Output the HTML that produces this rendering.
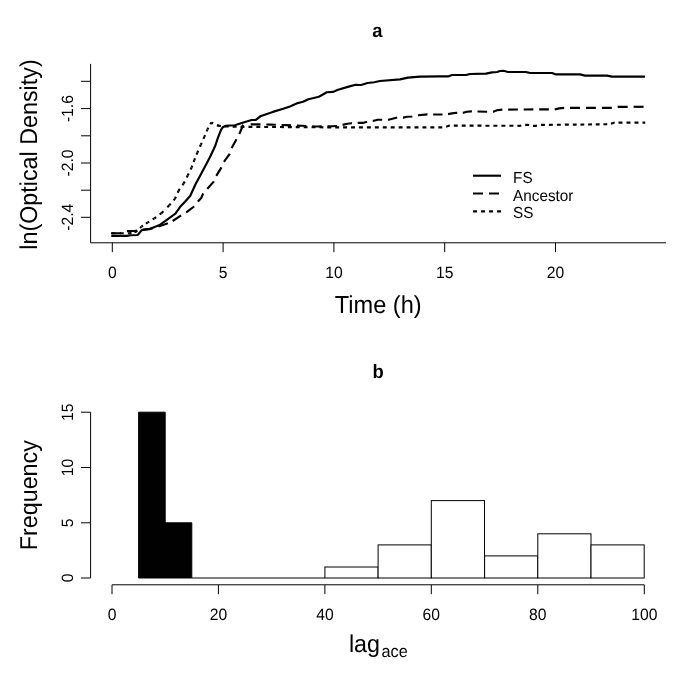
<!DOCTYPE html>
<html><head><meta charset="utf-8"><title>Figure</title>
<style>
html,body{margin:0;padding:0;background:#fff;}
body{width:685px;height:685px;overflow:hidden;}
svg{display:block;}
text{font-family:"Liberation Sans",sans-serif;fill:#000;text-anchor:middle;text-rendering:geometricPrecision;}
.ttl{font-size:18.4px;font-weight:bold;}
.tk{font-size:15.7px;}
.lab{font-size:23.3px;}
.lg{font-size:15.3px;text-anchor:start;}
.ax{fill:none;stroke:#000;stroke-width:1;stroke-linecap:butt;}
.cv{fill:none;stroke:#000;stroke-width:2.15;stroke-linecap:butt;stroke-linejoin:round;}
.da{stroke-dasharray:10 6;}
.do{stroke-dasharray:4 4;}
.br{fill:#fff;stroke:#000;stroke-width:1;}
.bk{fill:#000;stroke:#000;stroke-width:1;}
</style></head>
<body>
<svg width="685" height="685" viewBox="0 0 685 685">
<rect x="0" y="0" width="685" height="685" fill="#fff"/>
<g opacity="0.999">
<text class="ttl" transform="translate(377.4,36.6) scale(1,1.045)">a</text>
<path class="ax" d="M90.6,63.9V242.8H666"/>
<path class="ax" d="M81,81.3H90.6"/>
<path class="ax" d="M81,108.6H90.6"/>
<path class="ax" d="M81,135.8H90.6"/>
<path class="ax" d="M81,163.0H90.6"/>
<path class="ax" d="M81,190.2H90.6"/>
<path class="ax" d="M81,217.3H90.6"/>
<text class="tk" transform="translate(72.6,108.6) rotate(-90) scale(1,1.045)">-1.6</text>
<text class="tk" transform="translate(72.6,163.0) rotate(-90) scale(1,1.045)">-2.0</text>
<text class="tk" transform="translate(72.6,217.3) rotate(-90) scale(1,1.045)">-2.4</text>
<path class="ax" d="M112.3,242.8V252.2"/>
<text class="tk" transform="translate(112.3,278.2) scale(1,1.045)">0</text>
<path class="ax" d="M223.1,242.8V252.2"/>
<text class="tk" transform="translate(223.1,278.2) scale(1,1.045)">5</text>
<path class="ax" d="M333.9,242.8V252.2"/>
<text class="tk" transform="translate(333.9,278.2) scale(1,1.045)">10</text>
<path class="ax" d="M444.7,242.8V252.2"/>
<text class="tk" transform="translate(444.7,278.2) scale(1,1.045)">15</text>
<path class="ax" d="M555.5,242.8V252.2"/>
<text class="tk" transform="translate(555.5,278.2) scale(1,1.045)">20</text>
<text class="lab" style="font-size:23.6px" transform="translate(378.2,313) scale(1,1.045)">Time (h)</text>
<text class="lab" transform="translate(37.0,154.5) rotate(-90) scale(1,1.045)">ln(Optical Density)</text>
<polyline class="cv" points="111.3,235.9 127,235.9 130.5,235.2 137.7,235.0 141.8,230.1 149,229.2 159.6,225 167.5,219.3 175.4,213.6 180.7,206.2 185,201.8 190.3,195.7 195.5,184.3 200.8,174.6 206.5,163.8 210,157 215.3,145.7 217.9,137.8 221,129.9 222.7,127.3 225.8,125.7 234.7,125.2 242.6,122.8 251.6,120.0 255.8,119.9 260.3,116.3 272.8,111.9 283.3,108.7 290,106.4 296.6,103.4 303.1,101.8 308.4,99.2 318.9,96.8 326.8,92.2 333.4,91.9 337.3,90 347.8,86.9 355.7,84.7 361,85 367.5,83 374.1,82.3 380,81 400,79.4 408,77.6 420,76.6 440,76.4 448,76.4 452,75 466,75 470,74 486,73.6 492,72.4 497,72 500,71 503.5,70.8 508,72 526,72 530,73 552,73 556,74.4 580,74.4 585,75.6 607,75.6 612,76.6 645,76.6"/>
<polyline class="cv da" points="111.3,233.2 120,233.2 126,231.2 134.6,231 141,229.6 150,228.9 160,225.9 170.6,222.4"/>
<polyline class="cv da" style="stroke-dashoffset:13.5" points="170.6,222.4 178.5,217.1 186.3,212.3 193.4,207 198.2,201.3 201.2,198 203,193.9 207.4,188.8 213.7,181.6 216,176.3 221.3,167.6 223.6,162.3 229.5,154.1 231.8,147.7 237,138.4 240,132.5 243.3,124.4"/>
<polyline class="cv da" style="stroke-dasharray:9.751 5.851" points="250.7,124.3 257,124.3 266.3,124.5"/>
<polyline class="cv da" style="stroke-dasharray:9.560 5.736" points="266.3,124.5 271,124.6 286,125.1 302,125.8 316,126.5 332,126.3 338,126.0 342.6,124.9"/>
<polyline class="cv da" style="stroke-dasharray:9.551 5.731" points="342.6,124.9 347.3,123.7 351.6,123.2 358.2,122.8 363.5,122.8 367.7,121.6 373.9,120.7 377.7,119.7 382.4,119.7 388.6,119.7 397.4,117.5 403.2,117.6 407,116.7 412,116.5 418.3,115.3 427.3,114.4 433.2,114.5"/>
<polyline class="cv da" style="stroke-dasharray:9.289 5.574" points="433.2,114.5 442.7,114.5 447.8,114.2 452,113.4 456.5,112.8 463.1,112.8 467,111.7 471.1,111.4 477.5,111.5"/>
<polyline class="cv da" style="stroke-dasharray:9.689 5.813" points="477.5,111.5 486.7,111.7 493.2,111.7 497,110.2 502.7,109.6 549.5,109.3 554.6,109.6 559,108.4 564,107.9 570.0,107.9"/>
<polyline class="cv da" style="stroke-dasharray:9.955 5.973" points="570.0,107.9 612.5,107.9 617.8,106.8 633.6,106.8"/>
<polyline class="cv da" points="633.6,106.8 644.2,106.8"/>
<path class="cv" d="M111.3,233.2H113.3"/>
<polyline class="cv do" style="stroke-dasharray:2.088 4.175 2.088 0" points="113.3,233.2 130,233.2"/>
<polyline class="cv do" style="stroke-dasharray:1.515 3.029 1.515 0" points="130,233.2 135.9,231.82"/>
<polyline class="cv do" style="stroke-dasharray:1.883 3.765 1.883 0" points="135.9,231.82 136,231.8 141.4,226.7"/>
<polyline class="cv do" style="stroke-dasharray:1.837 3.675 1.837 0" points="141.4,226.7 147.5,222.6"/>
<polyline class="cv do" style="stroke-dasharray:2.019 4.039 2.019 0" points="147.5,222.6 154.4,218.4"/>
<polyline class="cv do" style="stroke-dasharray:2.180 4.360 2.180 0" points="154.4,218.4 161.4,213.2"/>
<polyline class="cv do" style="stroke-dasharray:2.793 5.586 2.793 0" points="161.4,213.2 169.3,205.3"/>
<polyline class="cv do" style="stroke-dasharray:2.180 4.360 2.180 0" points="169.3,205.3 175,198.7"/>
<polyline class="cv do" style="stroke-dasharray:2.160 4.320 2.160 0" points="175,198.7 178.5,190.8"/>
<polyline class="cv do" style="stroke-dasharray:2.261 4.522 2.261 0" points="178.5,190.8 183.7,183.4"/>
<polyline class="cv do" style="stroke-dasharray:2.214 4.427 2.214 0" points="183.7,183.4 187.7,175.5"/>
<polyline class="cv do" style="stroke-dasharray:2.203 4.405 2.203 0" points="187.7,175.5 191.6,167.6"/>
<polyline class="cv do" style="stroke-dasharray:1.993 3.986 1.993 0" points="191.6,167.6 194.3,160.1"/>
<polyline class="cv do" style="stroke-dasharray:1.996 3.992 1.996 0" points="194.3,160.1 197.3,152.7"/>
<polyline class="cv do" style="stroke-dasharray:2.160 4.320 2.160 0" points="197.3,152.7 200.8,144.8"/>
<polyline class="cv do" style="stroke-dasharray:2.160 4.320 2.160 0" points="200.8,144.8 204.3,136.9"/>
<polyline class="cv do" style="stroke-dasharray:2.006 4.012 2.006 0" points="204.3,136.9 207.4,129.5"/>
<polyline class="cv do" style="stroke-dasharray:2.025 4.050 2.025 0" points="207.4,129.5 211.3,122.4"/>
<polyline class="cv do" style="stroke-dasharray:2.120 4.240 2.120 0" points="211.3,122.4 214.5,124.4 217,125.3 219,125.75"/>
<polyline class="cv do" style="stroke-dasharray:3.944 3.944" points="217,125.3 221,126.2 240,126.8 320,127.3 343.1,127.3"/>
<polyline class="cv do" style="stroke-dasharray:3.967 3.967" points="343.1,127.3 438.3,127.3"/>
<polyline class="cv do" style="stroke-dasharray:3.948 3.948" points="438.3,127.3 444.5,127.3 449.5,125.6 477.5,125.68"/>
<polyline class="cv do" style="stroke-dasharray:3.988 3.988" points="477.5,125.68 520,125.8 523.5,124.8 528,124.8 531,125.8 536,125.8 540,124.9 572.8,124.63"/>
<polyline class="cv do" style="stroke-dasharray:3.829 3.829" points="572.8,124.63 577,124.6 609.5,124.2 614.5,122.6 618.5,122.6"/>
<polyline class="cv do" points="618.5,122.6 645.2,122.6"/>
<path class="cv" d="M473,175.7H501"/>
<path class="cv da" d="M473,193.5H501"/>
<path class="cv do" d="M473,211.3H501"/>
<text class="lg" transform="translate(513.1,182.7) scale(1,1.045)">FS</text>
<text class="lg" transform="translate(513.1,200.6) scale(1,1.045)">Ancestor</text>
<text class="lg" transform="translate(513.1,217.8) scale(1,1.045)">SS</text>
<text class="ttl" transform="translate(378,377.9) scale(1,1.045)">b</text>
<path class="ax" d="M90.6,578.0V412.2"/>
<path class="ax" d="M81,578.0H90.6"/>
<text class="tk" transform="translate(72.6,578.0) rotate(-90) scale(1,1.045)">0</text>
<path class="ax" d="M81,522.8H90.6"/>
<text class="tk" transform="translate(72.6,522.8) rotate(-90) scale(1,1.045)">5</text>
<path class="ax" d="M81,467.5H90.6"/>
<text class="tk" transform="translate(72.6,467.5) rotate(-90) scale(1,1.045)">10</text>
<path class="ax" d="M81,412.2H90.6"/>
<text class="tk" transform="translate(72.6,412.2) rotate(-90) scale(1,1.045)">15</text>
<path class="ax" d="M111.95,584.8H644.3"/>
<path class="ax" d="M112.0,584.8V594.2"/>
<text class="tk" transform="translate(112.0,619.7) scale(1,1.045)">0</text>
<path class="ax" d="M218.4,584.8V594.2"/>
<text class="tk" transform="translate(218.4,619.7) scale(1,1.045)">20</text>
<path class="ax" d="M324.9,584.8V594.2"/>
<text class="tk" transform="translate(324.9,619.7) scale(1,1.045)">40</text>
<path class="ax" d="M431.3,584.8V594.2"/>
<text class="tk" transform="translate(431.3,619.7) scale(1,1.045)">60</text>
<path class="ax" d="M537.8,584.8V594.2"/>
<text class="tk" transform="translate(537.8,619.7) scale(1,1.045)">80</text>
<path class="ax" d="M644.3,584.8V594.2"/>
<text class="tk" transform="translate(644.3,619.7) scale(1,1.045)">100</text>
<path class="bk" d="M138.6,578.0V412.2H165.2V522.8H191.8V578.0Z"/>
<path class="ax" d="M191.8,578.0H324.9"/>
<rect class="br" x="324.9" y="567.0" width="53.2" height="11.0"/>
<rect class="br" x="378.1" y="544.9" width="53.2" height="33.1"/>
<rect class="br" x="431.3" y="500.6" width="53.2" height="77.4"/>
<rect class="br" x="484.6" y="555.9" width="53.2" height="22.1"/>
<rect class="br" x="537.8" y="533.8" width="53.2" height="44.2"/>
<rect class="br" x="591.0" y="544.9" width="53.2" height="33.1"/>
<text class="lab" transform="translate(37.0,495.2) rotate(-90) scale(1,1.045)">Frequency</text>
<text class="lab" style="text-anchor:start" transform="translate(348.9,651.8) scale(1,1.045)">lag<tspan dy="5" style="font-size:16.3px" dx="1.5">ace</tspan></text>
</g>
</svg>
</body></html>
